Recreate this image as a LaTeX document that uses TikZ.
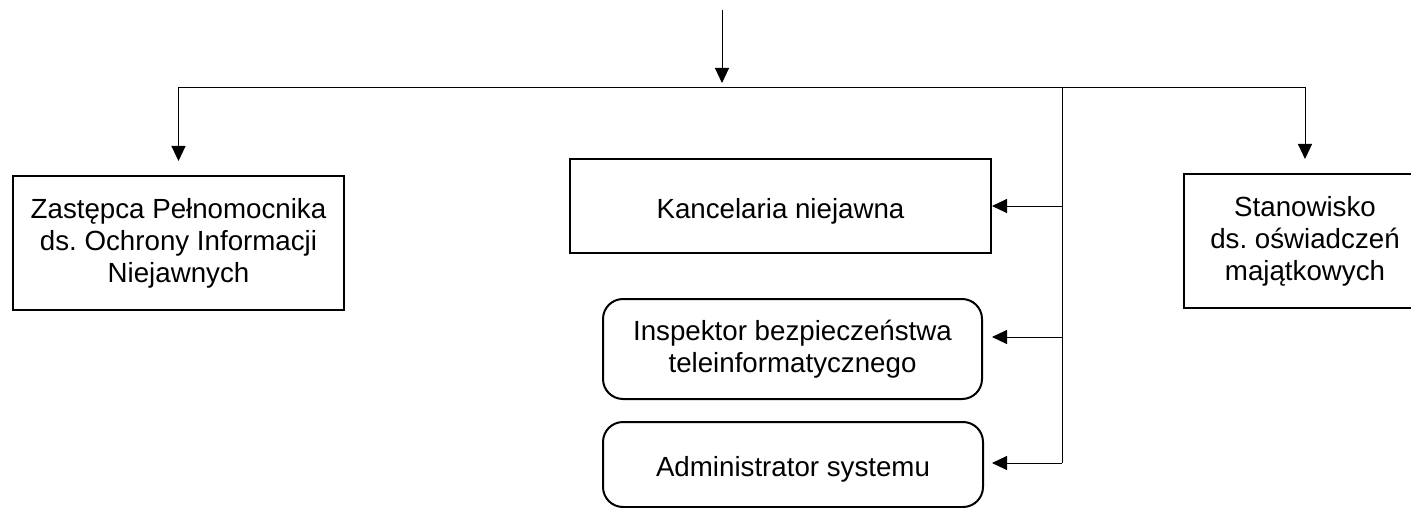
\documentclass[tikz,border=0pt]{standalone}
\usepackage{fontspec}
\setmainfont{Liberation Sans}
\frenchspacing
\usetikzlibrary{arrows.meta}
\tikzset{>={Triangle[length=15pt,width=14pt]}}
\tikzset{
  box/.style = {draw, line width=2pt, inner sep=0pt, execute at begin node={\rule{0pt}{30pt}}},
  roundbox/.style = {box, rounded corners=20pt}
}

\begin{document}
\begin{tikzpicture}[->, align = center, x = 1pt, y = -1pt, line width = 1pt,
    font = \fontsize{27.7}{32}\selectfont]
        \clip (0, 0) rectangle (1411, 508);
        \node[box, minimum width = 331, minimum height = 134] (zastepca) at (178.5, 243) {Zastępca Pełnomocnika \\ ds. Ochrony Informacji \\ Niejawnych};
        \node[box, minimum width = 421, minimum height = 94] (kancelaria) at (780.5, 206) {Kancelaria niejawna};
        \node[roundbox, minimum width = 379, minimum height = 100] (inspektor) at (792.5, 349) {Inspektor bezpieczeństwa \\ teleinformatycznego};
        \node[roundbox, minimum width = 380, minimum height = 85] (administrator) at (793, 464.5) {Administrator systemu};
        \node[box, minimum width = 242, minimum height = 134] (stanowisko) at (1305, 241) {Stanowisko \\ ds. oświadczeń \\ majątkowych};
        \coordinate (top) at (722, 10);
        \coordinate (hub) at (722, 88);
        \coordinate (bus) at (1062, 88);
        \coordinate (busend) at (1062, 463);
        \draw[shorten > = 5pt] (top) -- (hub);
        \draw[shorten > = 14pt] (hub) -| (zastepca.north);
        \draw[shorten > = 14pt] (hub) -| (stanowisko.north);
        \draw[-] (bus) -- (busend);
        \draw (kancelaria.east -| bus) -- (kancelaria.east);
        \draw[shorten > = 9pt] ([yshift = 12pt]inspektor.east -| bus) -- ([yshift = 12pt]inspektor.east);
        \draw[shorten > = 8pt] (busend) -- (busend -| administrator.east);
      \end{tikzpicture}
\end{document}
